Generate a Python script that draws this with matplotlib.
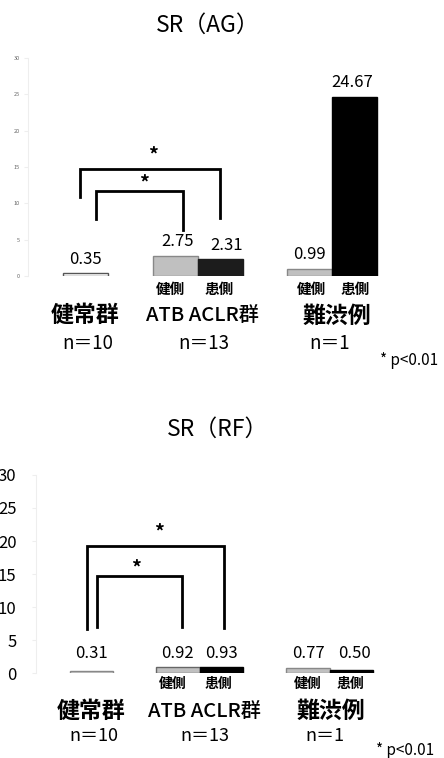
import matplotlib
matplotlib.use('Agg')
import matplotlib.pyplot as plt

plt.rcParams['font.family'] = ['Noto Sans CJK JP', 'DejaVu Sans']

# bar positions: healthy group, ATB ACLR (healthy side, injured side), difficult case (healthy side, injured side)
bar_x = [0, 2, 3, 5, 6]
sides = ['健側', '患側', '健側', '患側']
groups = ['健常群', 'ATB ACLR群', '難渋例']
group_n = ['n＝10', 'n＝13', 'n＝1']

ag_values = [0.35, 2.75, 2.31, 0.99, 24.67]
rf_values = [0.31, 0.92, 0.93, 0.77, 0.50]

y_ticks = [0, 5, 10, 15, 20, 25, 30]


def draw_bracket(ax, x0, x1, y0_left, y_top, y0_right, star_x, star_y):
    ax.plot([x0, x0, x1, x1], [y0_left, y_top, y_top, y0_right],
            color='black', lw=2, clip_on=False, solid_joinstyle='miter')
    ax.text(star_x, star_y, '*', ha='center', va='center', fontsize=14,
            fontweight='bold')


def setup_axes(ax, tick_size, tick_color, pad):
    ax.set_xlim(-1.28, 7.0)
    ax.set_ylim(0, 30)
    for s in ['top', 'right', 'bottom']:
        ax.spines[s].set_visible(False)
    ax.spines['left'].set_color('#eeeeee')
    ax.set_xticks([])
    ax.set_yticks(y_ticks)
    ax.tick_params(axis='y', length=3, color='#eeeeee', labelsize=tick_size,
                   labelcolor=tick_color, pad=pad)


def group_labels(ax, xs, y):
    for x, g in zip(xs, groups):
        if g.startswith('ATB'):
            ax.text(x, y, g, ha='center', va='center', fontsize=14.5,
                    fontweight='medium', clip_on=False)
        else:
            ax.text(x, y, g, ha='center', va='center', fontsize=16.5,
                    fontweight='bold', clip_on=False)


fig = plt.figure(figsize=(4.44, 7.58), dpi=100)

# ---- SR(AG)
ax1 = fig.add_axes([0.063, 0.636, 0.837, 0.2875])
setup_axes(ax1, 4, '#666666', 3)
colors1 = ['white', '#c0c0c0', '#1c1c1c', '#c0c0c0', 'black']
edges1 = ['#555555', '#888888', '#1c1c1c', '#888888', 'black']
ax1.bar(bar_x, ag_values, width=1.0, color=colors1, edgecolor=edges1, linewidth=1)
label_x1 = [0.0, 2.05, 3.15, 5.0, 5.95]
for x, v, lx in zip(bar_x, ag_values, label_x1):
    ax1.annotate(f'{v:.2f}', (lx, v), xytext=(0, 4), textcoords='offset points',
                 ha='center', va='bottom', fontsize=12)
for x, s in zip([1.9, 2.99, 5.03, 6.01], sides):
    ax1.text(x, -1.75, s, ha='center', va='center', fontsize=10.5, fontweight='bold',
             clip_on=False)
group_labels(ax1, [-0.01, 2.61, 5.59], -5.5)
for x, n in zip([0.06, 2.63, 5.43], group_n):
    ax1.text(x, -9.35, n, ha='center', va='center', fontsize=13.5, clip_on=False)
ax1.text(7.21, -11.7, '* p<0.01', ha='center', va='center', fontsize=11,
         clip_on=False)
draw_bracket(ax1, -0.12, 2.99, 10.9, 14.7, 8.0, 1.5, 16.6)
draw_bracket(ax1, 0.23, 2.17, 7.8, 11.7, 6.3, 1.3, 12.8)
fig.text(0.468, 0.967, 'SR（AG）', ha='center', va='center', fontsize=16.5)

# ---- SR(RF)
ax2 = fig.add_axes([0.081, 0.112, 0.808, 0.2614])
setup_axes(ax2, 12, 'black', 11)
colors2 = ['#d9d9d9', '#c0c0c0', 'black', '#c0c0c0', 'black']
edges2 = ['#888888', '#666666', 'black', '#888888', 'black']
ax2.bar(bar_x, rf_values, width=1.0, color=colors2, edgecolor=edges2, linewidth=1)
label_x2 = [0.01, 1.99, 3.0, 5.02, 6.08]
for lx, v in zip(label_x2, rf_values):
    ax2.text(lx, 3.0, f'{v:.2f}', ha='center', va='center', fontsize=12)
for x, s in zip([1.87, 2.93, 5.0, 5.97], sides):
    ax2.text(x, -1.6, s, ha='center', va='center', fontsize=10, fontweight='bold',
             clip_on=False)
group_labels(ax2, [0.0, 2.61, 5.53], -5.76)
for x, n in zip([0.06, 2.61, 5.39], group_n):
    ax2.text(x, -9.5, n, ha='center', va='center', fontsize=13, clip_on=False)
ax2.text(7.25, -11.7, '* p<0.01', ha='center', va='center', fontsize=11,
         clip_on=False)
draw_bracket(ax2, -0.1, 3.05, 6.7, 19.2, 6.8, 1.55, 21.4)
draw_bracket(ax2, 0.13, 2.1, 7.0, 14.7, 7.0, 1.02, 15.9)
fig.text(0.49, 0.434, 'SR（RF）', ha='center', va='center', fontsize=16.5)

fig.savefig('out.png', dpi=100)
